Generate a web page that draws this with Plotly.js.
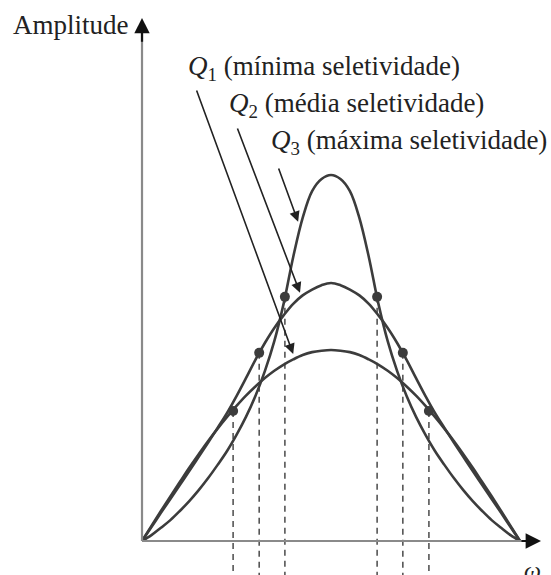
<!DOCTYPE html>
<html>
<head>
<meta charset="utf-8">
<script src="https://cdn.plot.ly/plotly-3.0.1.min.js"></script>
<style>
  html, body { margin: 0; padding: 0; background: #ffffff; }
  #chart { width: 551px; height: 575px; }
</style>
</head>
<body>
<div id="chart"></div>
<script>
// Frequency axis (arbitrary units, centre frequency at 5)
const omega = [0, 0.25, 0.5, 0.75, 1, 1.25, 1.5, 1.75, 2, 2.25, 2.5, 2.75, 3, 3.25, 3.5, 3.75, 4, 4.25, 4.5, 4.75, 5,
               5.25, 5.5, 5.75, 6, 6.25, 6.5, 6.75, 7, 7.25, 7.5, 7.75, 8, 8.25, 8.5, 8.75, 9, 9.25, 9.5, 9.75, 10];

// Amplitude responses for the three quality factors
const ampQ1 = [0, 0.41, 0.82, 1.22, 1.61, 2.00, 2.37, 2.73, 3.07, 3.39, 3.69, 3.97, 4.22, 4.45, 4.65, 4.82, 4.96, 5.08, 5.16, 5.20, 5.22,
               5.20, 5.16, 5.08, 4.96, 4.82, 4.65, 4.45, 4.22, 3.97, 3.69, 3.39, 3.07, 2.73, 2.37, 2.00, 1.61, 1.22, 0.82, 0.41, 0];
const ampQ2 = [0, 0.38, 0.77, 1.15, 1.53, 1.91, 2.30, 2.69, 3.09, 3.50, 3.96, 4.45, 4.95, 5.41, 5.82, 6.17, 6.48, 6.71, 6.87, 6.99, 7.05,
               6.99, 6.87, 6.71, 6.48, 6.17, 5.82, 5.41, 4.95, 4.45, 3.96, 3.50, 3.09, 2.69, 2.30, 1.91, 1.53, 1.15, 0.77, 0.38, 0];
const ampQ3 = [0, 0.16, 0.36, 0.57, 0.82, 1.09, 1.39, 1.72, 2.08, 2.46, 2.90, 3.39, 3.96, 4.64, 5.46, 6.50, 7.76, 8.83, 9.56, 9.89, 10.0,
               9.89, 9.56, 8.83, 7.76, 6.50, 5.46, 4.64, 3.96, 3.39, 2.90, 2.46, 2.08, 1.72, 1.39, 1.09, 0.82, 0.57, 0.36, 0.16, 0];

// Cut-off frequencies (lower, upper) and the amplitude there
const cutQ1 = [2.41, 7.59];
const cutQ2 = [3.10, 6.90];
const cutQ3 = [3.78, 6.22];
const cutAmp = [3.55, 5.14, 6.67];

// Curve labels
const labels = [
  '<i>Q</i><sub>1</sub> (mínima seletividade)',
  '<i>Q</i><sub>2</sub> (média seletividade)',
  '<i>Q</i><sub>3</sub> (máxima seletividade)'
];
const yTitle = 'Amplitude';
const xTitle = '<i>ω</i>';

// ---- drawing ----
const ink = '#3c3c3c';
const axisGrey = '#8a8a8a';
const serif = 'Liberation Serif, Times New Roman, serif';

// plot area spans the whole page; ranges put the origin where the axes meet
const xRange = [-3.757, 10.820];
const yRange = [-0.929, 14.781];

function curve(y) {
  return {
    x: omega, y: y, type: 'scatter', mode: 'lines',
    line: { color: ink, width: 2.6, shape: 'spline', smoothing: 1 },
    hoverinfo: 'skip', showlegend: false
  };
}

const cuts = [cutQ1, cutQ2, cutQ3];
const dotX = [], dotY = [];
cuts.forEach((c, i) => { c.forEach(w => { dotX.push(w); dotY.push(cutAmp[i]); }); });

const traces = [
  curve(ampQ1), curve(ampQ2), curve(ampQ3),
  {
    x: dotX, y: dotY, type: 'scatter', mode: 'markers',
    marker: { color: ink, size: 10 }, hoverinfo: 'skip', showlegend: false
  }
];

const shapes = [
  // axes
  { type: 'line', xref: 'x', yref: 'y', x0: 0, y0: 0, x1: 0, y1: 14.0, line: { color: axisGrey, width: 2.2 } },
  { type: 'line', xref: 'x', yref: 'y', x0: 0, y0: 0, x1: 10.3, y1: 0, line: { color: axisGrey, width: 2.2 } }
];
// dashed drop lines from each cut-off point
dotX.forEach((w, i) => {
  shapes.push({
    type: 'line', xref: 'x', yref: 'y', layer: 'below',
    x0: w, x1: w, y0: dotY[i], y1: yRange[0],
    line: { color: '#555555', width: 1.6, dash: '6px,5px' }
  });
});

const labelFont = { family: serif, size: 27, color: '#222' };

const annotations = [
  // axis arrowheads
  { x: 0, y: 14.29, ax: 0, ay: 13.6, xref: 'x', yref: 'y', axref: 'x', ayref: 'y',
    text: '', showarrow: true, arrowhead: 2, arrowsize: 1.4, arrowwidth: 2.2, arrowcolor: '#111', standoff: 0 },
  { x: 10.556, y: 0, ax: 10.0, ay: 0, xref: 'x', yref: 'y', axref: 'x', ayref: 'y',
    text: '', showarrow: true, arrowhead: 2, arrowsize: 1.4, arrowwidth: 2.2, arrowcolor: '#111', standoff: 0 },
  // axis titles
  { x: -0.3, y: 14.10, xref: 'x', yref: 'y', text: yTitle, showarrow: false,
    xanchor: 'right', yanchor: 'middle', font: labelFont },
  { x: 10.33, y: -0.80, xref: 'x', yref: 'y', text: xTitle, showarrow: false,
    xanchor: 'center', yanchor: 'middle', font: { family: serif, size: 24, color: '#222' } },
  // curve labels
  { x: 1.17, y: 12.92, xref: 'x', yref: 'y', text: labels[0], showarrow: false,
    xanchor: 'left', yanchor: 'middle', font: labelFont },
  { x: 2.25, y: 11.92, xref: 'x', yref: 'y', text: labels[1], showarrow: false,
    xanchor: 'left', yanchor: 'middle', font: labelFont },
  { x: 3.36, y: 10.90, xref: 'x', yref: 'y', text: labels[2], showarrow: false,
    xanchor: 'left', yanchor: 'middle', font: labelFont },
  // pointers from the labels to their curves
  { x: 4.0, y: 5.11, ax: 1.43, ay: 12.35, xref: 'x', yref: 'y', axref: 'x', ayref: 'y',
    text: '', showarrow: true, arrowhead: 2, arrowsize: 1.3, arrowwidth: 1.6, arrowcolor: '#222', standoff: 0 },
  { x: 4.18, y: 6.78, ax: 2.51, ay: 11.31, xref: 'x', yref: 'y', axref: 'x', ayref: 'y',
    text: '', showarrow: true, arrowhead: 2, arrowsize: 1.3, arrowwidth: 1.6, arrowcolor: '#222', standoff: 0 },
  { x: 4.13, y: 8.72, ax: 3.60, ay: 10.22, xref: 'x', yref: 'y', axref: 'x', ayref: 'y',
    text: '', showarrow: true, arrowhead: 2, arrowsize: 1.3, arrowwidth: 1.6, arrowcolor: '#222', standoff: 0 }
];

const layout = {
  width: 551, height: 575,
  margin: { l: 0, r: 0, t: 0, b: 0 },
  paper_bgcolor: '#ffffff', plot_bgcolor: '#ffffff',
  xaxis: { range: xRange, visible: false, fixedrange: true },
  yaxis: { range: yRange, visible: false, fixedrange: true },
  shapes: shapes,
  annotations: annotations,
  showlegend: false
};

Plotly.newPlot('chart', traces, layout, { staticPlot: true, displayModeBar: false });
</script>
</body>
</html>
